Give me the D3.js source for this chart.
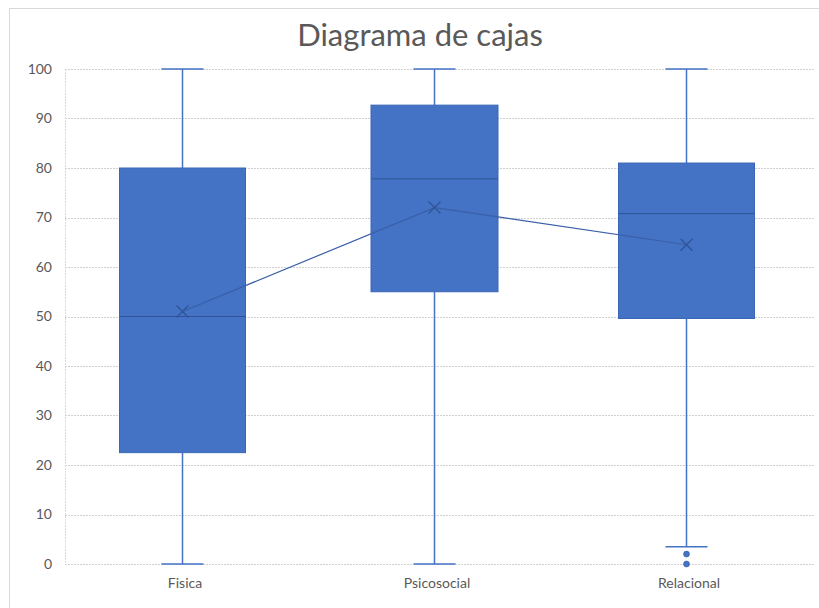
<!DOCTYPE html>
<html><head><meta charset="utf-8">
<script src="https://cdn.jsdelivr.net/npm/d3@7"></script>
<style>body{margin:0;background:#fff}svg{display:block}</style>
</head><body>
<div id="chart"></div>
<script>
const title = "Diagrama de cajas";
const categories = ["Fisica", "Psicosocial", "Relacional"];
const mins = [0, 0, 3.5];
const q1s = [22.5, 55, 49.6];
const medians = [50, 77.8, 70.8];
const q3s = [80, 92.7, 81];
const maxs = [100, 100, 100];
const means = [51, 72, 64.5];
const outliers = [[], [], [2, 0]];
const yTicks = [0, 10, 20, 30, 40, 50, 60, 70, 80, 90, 100];

const W = 819, H = 608;
const svg = d3.select("#chart").append("svg").attr("width", W).attr("height", H);
const font = "Lato, 'Open Sans', sans-serif";

// outer chart border
svg.append("rect").attr("x", 9.5).attr("y", 8.5).attr("width", 830).attr("height", 620)
  .attr("fill", "#fff").attr("stroke", "#d9d9d9").attr("stroke-width", 1);

const y = d3.scaleLinear().domain([0, 100]).range([564, 69]);
const x = d3.scaleBand().domain(categories).range([56, 812]);
const plotL = 65, plotR = 815;

// gridlines
svg.append("g").selectAll("line").data(yTicks).join("line")
  .attr("x1", plotL).attr("x2", plotR)
  .attr("y1", d => Math.round(y(d)) + 0.5).attr("y2", d => Math.round(y(d)) + 0.5)
  .attr("stroke", "#d0d0d0").attr("stroke-width", 1).attr("stroke-dasharray", "2,1");
svg.append("line").attr("x1", plotL + 0.5).attr("x2", plotL + 0.5).attr("y1", y(100)).attr("y2", y(0))
  .attr("stroke", "#d9d9d9").attr("stroke-dasharray", "2,1");

// y axis labels
const yAxis = d3.axisLeft(y).tickValues(yTicks).tickSize(0).tickPadding(0);
const gy = svg.append("g").attr("transform", "translate(52,0)").call(yAxis);
gy.select(".domain").remove();
gy.selectAll("text").attr("font-family", font).attr("font-size", 14).attr("fill", "#595959");

// x axis labels
const xAxis = d3.axisBottom(x).tickSize(0).tickPadding(0);
const gx = svg.append("g").attr("transform", "translate(3,578)").call(xAxis);
gx.select(".domain").remove();
gx.selectAll("text").attr("font-family", font).attr("font-size", 14).attr("fill", "#595959").attr("dy", "0.71em");

const boxWs = [126, 127, 136], capW = 42;
const cx = c => x(c) + x.bandwidth() / 2;
const blue = "#4472C4", dark = "#2F5597";

const g = svg.append("g");
categories.forEach((c, i) => {
  const X = Math.round(cx(c)) + 0.5;
  const boxW = boxWs[i];
  // whiskers
  g.append("line").attr("x1", X).attr("x2", X).attr("y1", y(maxs[i])).attr("y2", y(q3s[i])).attr("stroke", blue).attr("stroke-width", 1.5);
  g.append("line").attr("x1", X).attr("x2", X).attr("y1", y(q1s[i])).attr("y2", y(mins[i])).attr("stroke", blue).attr("stroke-width", 1.5);
  g.append("line").attr("x1", X - capW / 2).attr("x2", X + capW / 2).attr("y1", y(maxs[i])).attr("y2", y(maxs[i])).attr("stroke", blue).attr("stroke-width", 1.5);
  g.append("line").attr("x1", X - capW / 2).attr("x2", X + capW / 2).attr("y1", y(mins[i])).attr("y2", y(mins[i])).attr("stroke", blue).attr("stroke-width", 1.5);
  // box
  g.append("rect").attr("x", X - boxW / 2).attr("width", boxW)
    .attr("y", y(q3s[i])).attr("height", y(q1s[i]) - y(q3s[i]))
    .attr("fill", blue).attr("stroke", "#3a66b5").attr("stroke-width", 1);
  g.append("line").attr("x1", X - boxW / 2).attr("x2", X + boxW / 2).attr("y1", y(medians[i])).attr("y2", y(medians[i]))
    .attr("stroke", dark).attr("stroke-width", 1);
  outliers[i].forEach(o => {
    g.append("circle").attr("cx", X).attr("cy", y(o)).attr("r", 3).attr("fill", blue).attr("stroke", dark).attr("stroke-width", 0.5);
  });
});

// mean line and markers
const line = d3.line().x((d, i) => Math.round(cx(categories[i])) + 0.5).y(d => y(d));
svg.append("path").attr("d", line(means)).attr("fill", "none").attr("stroke", "#3a5fa8").attr("stroke-width", 1.2);
categories.forEach((c, i) => {
  const X = Math.round(cx(c)) + 0.5, Y = y(means[i]), s = 6;
  svg.append("path").attr("d", `M${X - s},${Y - s}L${X + s},${Y + s}M${X - s},${Y + s}L${X + s},${Y - s}`)
    .attr("stroke", dark).attr("stroke-width", 1.4).attr("fill", "none");
});

// title
svg.append("text").attr("x", 420).attr("y", 46).attr("text-anchor", "middle")
  .attr("font-family", font).attr("font-size", 31).attr("fill", "#595959").text(title);
</script>
</body></html>
